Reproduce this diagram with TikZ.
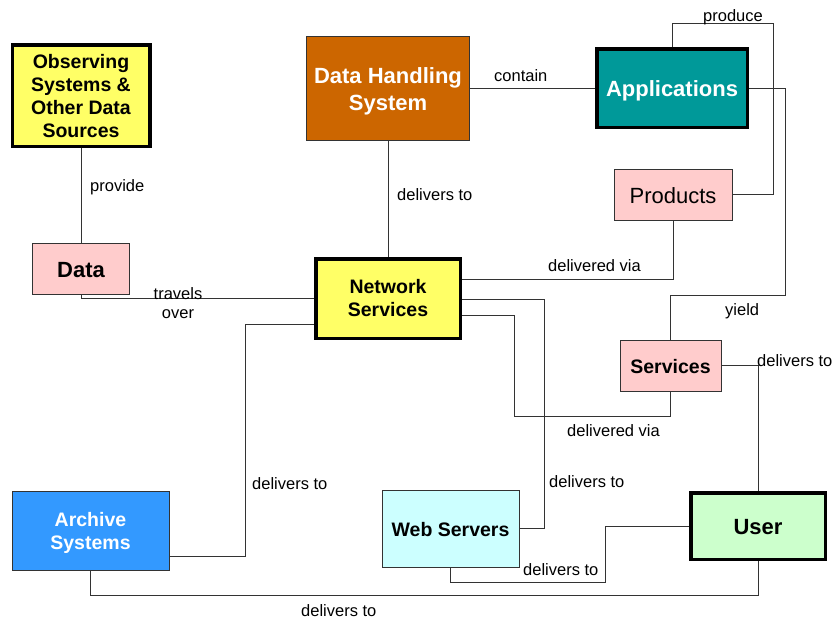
\documentclass[tikz,border=0pt]{standalone}
\usepackage{fontspec}
\setmainfont{Liberation Sans}
\definecolor{ylw}{HTML}{FFFF66}
\definecolor{rust}{HTML}{CC6600}
\definecolor{teal2}{HTML}{009999}
\definecolor{pink2}{HTML}{FFCCCC}
\definecolor{blue2}{HTML}{3399FF}
\definecolor{cyan2}{HTML}{CCFFFF}
\definecolor{green2}{HTML}{CCFFCC}
\definecolor{edge}{HTML}{333333}
\newcommand{\mytopstrut}{\rule{0pt}{1.02em}}
\newcommand{\mybotstrut}{\rule[-0.212em]{0pt}{0pt}}
\newcommand{\mlines}[2][3]{\raisebox{-#1pt}[\height][\depth]{\begin{tabular}{@{}c@{}}#2\end{tabular}}}
\tikzset{
  boxbase/.style={rectangle, inner sep=0pt},
  oneline/.style={execute at begin node=\mytopstrut, execute at end node=\mybotstrut},
  box/.style={boxbase, draw=edge, line width=1pt},
  thickbox/.style={boxbase, draw=black, line width=3.5pt},
  conn/.style={draw=edge, line width=1pt},
  lbl/.style={inner sep=0pt, anchor=west, font=\fontsize{16.5}{19}\selectfont},
  bigb/.style={font=\fontsize{22}{27.4}\selectfont\bfseries},
  midb/.style={font=\fontsize{19.5}{23}\selectfont\bfseries}
}
\begin{document}
\begin{tikzpicture}[x=1pt,y=-1pt]
\useasboundingbox (0,0) rectangle (834,621);
% nodes
\node[thickbox, midb, fill=ylw, minimum width=137.5pt, minimum height=101.5pt] (obs) at (81,95.5) {\mlines[3.2]{Observing\\Systems \&\\Other Data\\Sources}};
\node[box, bigb, fill=rust, text=white, minimum width=163pt, minimum height=104pt] (dhs) at (388,88) {\mlines[3.5]{Data Handling\\System}};
\node[thickbox, oneline, bigb, fill=teal2, text=white, minimum width=150.5pt, minimum height=78.5pt] (apps) at (672,88) {Applications};
\node[box, oneline, fill=pink2, font=\fontsize{22}{27}\selectfont, minimum width=118pt, minimum height=51pt] (prod) at (673,194.5) {Products};
\node[box, oneline, bigb, fill=pink2, minimum width=97pt, minimum height=51pt] (data) at (81,268.5) {Data};
\node[thickbox, midb, fill=ylw, minimum width=144.5pt, minimum height=79.5pt] (ns) at (388,298.5) {\mlines[1.8]{Network\\Services}};
\node[box, oneline, midb, fill=pink2, minimum width=101pt, minimum height=51pt] (serv) at (670.5,365.5) {Services};
\node[box, midb, fill=blue2, text=white, minimum width=157pt, minimum height=79pt] (arch) at (90.5,530.5) {\mlines[3.2]{Archive\\Systems}};
\node[box, oneline, midb, fill=cyan2, minimum width=137pt, minimum height=77pt] (web) at (450.5,528.5) {Web Servers};
\node[thickbox, oneline, bigb, fill=green2, minimum width=134.5pt, minimum height=66.5pt] (user) at (758,526) {User};
% connectors
\draw[conn] (obs.south) -- (data.north);
\draw[conn] (data.south) |- (ns.west);
\draw[conn] (dhs.south) -- (ns.north);
\draw[conn] (dhs.east) -- (apps.west);
\draw[conn] (apps.north) |- (773,23) |- (prod.east);
\draw[conn] (apps.east) -| (785,295) -| (serv.north);
\draw[conn] (prod.south) |- (ns.east |- 0,279);
\draw[conn] (ns.east |- 0,299) -| (544,528.5) -- (web.east);
\draw[conn] (ns.east |- 0,315) -| (514,416) -| (serv.south);
\draw[conn] (serv.east) -| (user.north);
\draw[conn] (arch.east |- 0,556) -| (245,324) -- (ns.west |- 0,324);
\draw[conn] (arch.south) |- (758,595) -- (user.south);
\draw[conn] (web.south) |- (605,582) |- (user.west);
% labels
\node[lbl] (l1) at (90,187.5) {provide};
\node[lbl, anchor=center, align=center] (l2) at (178,303) {travels\\over};
\node[lbl] (l3) at (397,194.5) {delivers to};
\node[lbl] (l4) at (494,76) {contain};
\node[lbl] (l5) at (703,17.5) {produce};
\node[lbl] (l6) at (725,311.5) {yield};
\node[lbl] (l7) at (548,266) {delivered via};
\node[lbl] (l8) at (567,430.5) {delivered via};
\node[lbl] (l9) at (549,481.5) {delivers to};
\node[lbl] (l10) at (757,360.5) {delivers to};
\node[lbl] (l11) at (252,483.5) {delivers to};
\node[lbl] (l12) at (301,610.5) {delivers to};
\node[lbl] (l13) at (523,569.5) {delivers to};
\end{tikzpicture}
\end{document}
